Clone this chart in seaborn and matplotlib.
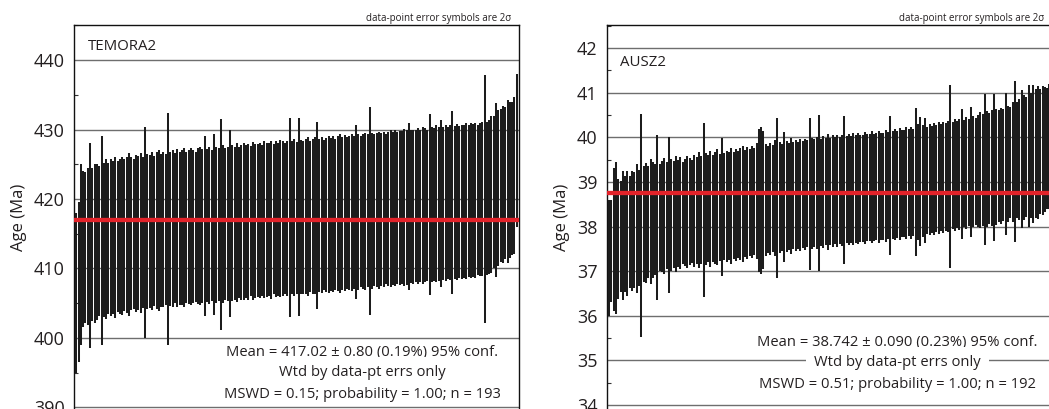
import numpy as np
import pandas as pd
import matplotlib
matplotlib.use("Agg")
import matplotlib.pyplot as plt
import seaborn as sns
from matplotlib.ticker import MultipleLocator

# ---------------- data ----------------
# TEMORA2: spot ages (Ma), sorted, and 2-sigma errors
temora_age = [
    406.5, 408.0, 412.0, 412.8, 413.0, 413.1, 413.3, 413.5, 413.6, 413.8,
    413.9, 414.0, 414.1, 414.2, 414.3, 414.4, 414.5, 414.5, 414.6, 414.6,
    414.7, 414.8, 414.8, 414.9, 415.0, 415.0, 415.0, 415.1, 415.1, 415.2,
    415.2, 415.3, 415.3, 415.4, 415.4, 415.5, 415.5, 415.5, 415.6, 415.6,
    415.7, 415.7, 415.7, 415.8, 415.8, 415.8, 415.9, 415.9, 415.9, 416.0,
    416.0, 416.0, 416.0, 416.1, 416.1, 416.1, 416.1, 416.2, 416.2, 416.2,
    416.3, 416.3, 416.3, 416.3, 416.4, 416.4, 416.4, 416.5, 416.5, 416.5,
    416.6, 416.6, 416.6, 416.7, 416.7, 416.7, 416.8, 416.8, 416.8, 416.9,
    416.9, 416.9, 417.0, 417.0, 417.0, 417.0, 417.1, 417.1, 417.1, 417.2,
    417.2, 417.2, 417.2, 417.3, 417.3, 417.3, 417.3, 417.4, 417.4, 417.4,
    417.5, 417.5, 417.5, 417.5, 417.6, 417.6, 417.6, 417.7, 417.7, 417.7,
    417.8, 417.8, 417.8, 417.8, 417.9, 417.9, 417.9, 418.0, 418.0, 418.0,
    418.0, 418.1, 418.1, 418.1, 418.2, 418.2, 418.2, 418.3, 418.3, 418.3,
    418.4, 418.4, 418.4, 418.5, 418.5, 418.5, 418.6, 418.6, 418.6, 418.7,
    418.7, 418.7, 418.8, 418.8, 418.8, 418.9, 418.9, 418.9, 419.0, 419.0,
    419.0, 419.1, 419.1, 419.1, 419.2, 419.2, 419.2, 419.3, 419.3, 419.3,
    419.4, 419.4, 419.4, 419.5, 419.5, 419.5, 419.6, 419.6, 419.6, 419.7,
    419.7, 419.7, 419.8, 419.8, 419.8, 419.9, 419.9, 420.0, 420.0, 420.1,
    420.3, 420.6, 421.0, 421.3, 421.6, 421.9, 422.1, 422.3, 422.5, 422.7,
    423.0, 423.4, 427.0,
]
temora_err2s = [
    11.5, 11.5, 13.0, 11.2, 10.9, 11.3, 14.8, 11.0, 11.4, 11.2,
    10.8, 15.0, 11.1, 11.5, 10.9, 11.3, 11.0, 11.6, 10.8, 11.2,
    11.4, 10.9, 11.2, 11.7, 11.0, 10.8, 11.3, 11.1, 11.5, 10.9,
    15.2, 11.2, 11.0, 11.4, 10.8, 11.3, 11.6, 11.0, 11.2, 10.9,
    16.7, 11.1, 11.3, 10.8, 11.4, 11.0, 11.2, 11.5, 10.9, 11.1,
    11.3, 11.0, 10.8, 11.2, 11.4, 11.1, 13.0, 11.0, 11.3, 10.9,
    13.0, 11.2, 11.0, 15.2, 11.3, 10.9, 11.1, 13.5, 11.2, 11.0,
    11.4, 10.9, 11.1, 11.3, 11.0, 11.2, 10.8, 11.4, 11.1, 11.0,
    11.2, 10.9, 11.3, 11.1, 11.0, 11.4, 10.8, 11.2, 11.0, 11.3,
    11.1, 10.9, 11.2, 14.3, 11.0, 11.3, 10.9, 14.2, 11.1, 11.0,
    11.2, 11.4, 10.9, 11.1, 11.3, 13.5, 11.0, 11.2, 10.8, 11.1,
    11.3, 11.0, 11.2, 10.9, 11.1, 11.4, 11.0, 11.2, 10.9, 11.1,
    11.3, 11.0, 12.5, 11.2, 10.9, 11.1, 11.3, 11.0, 15.0, 11.2,
    10.9, 11.1, 11.3, 11.0, 11.2, 10.8, 11.1, 11.3, 11.0, 11.2,
    10.9, 11.1, 11.0, 11.3, 11.2, 12.0, 11.0, 11.1, 10.9, 11.2,
    11.0, 11.3, 11.1, 10.9, 13.0, 11.2, 11.0, 11.3, 11.1, 12.0,
    11.0, 11.2, 10.9, 11.1, 13.2, 11.0, 11.2, 10.9, 11.1, 11.0,
    11.2, 10.9, 11.1, 11.0, 11.2, 10.8, 11.0, 11.1, 17.8, 11.0,
    11.1, 11.3, 11.0, 12.5, 11.2, 11.0, 11.3, 11.0, 11.7, 11.2,
    11.0, 11.3, 11.0,
]

# AUSZ2: spot ages (Ma), sorted, and 2-sigma errors
ausz_age = [
    37.30, 37.45, 37.70, 37.75, 37.72, 37.78, 37.80, 37.83, 37.85, 37.88,
    37.90, 37.92, 37.95, 37.97, 38.02, 38.05, 38.08, 38.10, 38.12, 38.14,
    38.16, 38.20, 38.20, 38.22, 38.23, 38.24, 38.25, 38.26, 38.27, 38.28,
    38.29, 38.30, 38.30, 38.31, 38.32, 38.33, 38.34, 38.35, 38.36, 38.37,
    38.37, 38.38, 38.39, 38.40, 38.40, 38.41, 38.42, 38.43, 38.43, 38.44,
    38.45, 38.45, 38.46, 38.47, 38.48, 38.48, 38.49, 38.50, 38.51, 38.52,
    38.53, 38.54, 38.55, 38.56, 38.57, 38.58, 38.59, 38.60, 38.60, 38.61,
    38.62, 38.62, 38.63, 38.64, 38.65, 38.65, 38.66, 38.67, 38.67, 38.68,
    38.69, 38.69, 38.70, 38.71, 38.71, 38.72, 38.73, 38.73, 38.74, 38.75,
    38.75, 38.76, 38.77, 38.77, 38.78, 38.78, 38.79, 38.79, 38.80, 38.80,
    38.81, 38.81, 38.82, 38.82, 38.83, 38.83, 38.84, 38.84, 38.85, 38.85,
    38.86, 38.86, 38.87, 38.87, 38.88, 38.88, 38.89, 38.89, 38.90, 38.90,
    38.91, 38.92, 38.92, 38.93, 38.94, 38.94, 38.95, 38.96, 38.96, 38.97,
    38.98, 38.98, 38.99, 39.00, 39.00, 39.01, 39.02, 39.03, 39.04, 39.05,
    39.06, 39.07, 39.08, 39.09, 39.10, 39.10, 39.11, 39.12, 39.13, 39.14,
    39.15, 39.16, 39.17, 39.18, 39.19, 39.20, 39.21, 39.22, 39.23, 39.24,
    39.25, 39.26, 39.27, 39.28, 39.29, 39.30, 39.31, 39.32, 39.33, 39.35,
    39.36, 39.38, 39.40, 39.41, 39.43, 39.45, 39.46, 39.48, 39.50, 39.52,
    39.54, 39.56, 39.58, 39.60, 39.62, 39.64, 39.66, 39.68, 39.70, 39.72,
    39.75, 39.80,
]
ausz_err2s = [
    1.30, 1.15, 1.60, 1.70, 1.35, 1.25, 1.45, 1.30, 1.40, 1.25,
    1.35, 1.30, 1.45, 1.30, 2.50, 1.30, 1.35, 1.25, 1.40, 1.30,
    1.25, 1.85, 1.20, 1.25, 1.30, 1.20, 1.75, 1.25, 1.20, 1.30,
    1.20, 1.25, 1.15, 1.20, 1.25, 1.20, 1.15, 1.25, 1.20, 1.30,
    1.20, 1.95, 1.25, 1.20, 1.30, 1.20, 1.25, 1.30, 1.20, 1.55,
    1.20, 1.25, 1.20, 1.30, 1.20, 1.25, 1.20, 1.25, 1.30, 1.20,
    1.25, 1.20, 1.25, 1.20, 1.30, 1.60, 1.65, 1.55, 1.25, 1.20,
    1.25, 1.20, 1.30, 1.80, 1.25, 1.20, 1.45, 1.25, 1.20, 1.30,
    1.20, 1.25, 1.20, 1.25, 1.20, 1.25, 1.20, 1.70, 1.25, 1.20,
    1.25, 1.75, 1.20, 1.25, 1.20, 1.30, 1.20, 1.25, 1.20, 1.25,
    1.20, 1.25, 1.65, 1.20, 1.25, 1.20, 1.25, 1.20, 1.25, 1.20,
    1.20, 1.25, 1.20, 1.20, 1.25, 1.20, 1.20, 1.25, 1.20, 1.20,
    1.25, 1.20, 1.55, 1.20, 1.25, 1.20, 1.25, 1.20, 1.20, 1.25,
    1.20, 1.25, 1.20, 1.65, 1.30, 1.45, 1.25, 1.40, 1.20, 1.25,
    1.20, 1.25, 1.20, 1.25, 1.20, 1.25, 1.20, 1.25, 2.05, 1.20,
    1.25, 1.20, 1.25, 1.45, 1.20, 1.25, 1.20, 1.45, 1.25, 1.20,
    1.25, 1.30, 1.25, 1.70, 1.30, 1.25, 1.30, 1.65, 1.30, 1.25,
    1.30, 1.25, 1.60, 1.30, 1.25, 1.35, 1.80, 1.30, 1.35, 1.55,
    1.40, 1.35, 1.60, 1.40, 1.55, 1.45, 1.50, 1.40, 1.45, 1.40,
    1.35, 1.40,
]

temora_mean = 417.02
ausz_mean = 38.742

temora_ticks = [390, 400, 410, 420, 430, 440]
ausz_ticks = [34, 35, 36, 37, 38, 39, 40, 41, 42]

temora_name = "TEMORA2"
ausz_name = "AUSZ2"
temora_lines = ["Mean = 417.02 \u00b1 0.80 (0.19%) 95% conf.",
                "Wtd by data-pt errs only",
                "MSWD = 0.15; probability = 1.00; n = 193"]
ausz_lines = ["Mean = 38.742 \u00b1 0.090 (0.23%) 95% conf.",
              "Wtd by data-pt errs only",
              "MSWD = 0.51; probability = 1.00; n = 192"]
note = "data-point error symbols are 2\u03c3"
ylabel = "Age (Ma)"

# ---------------- style ----------------
sns.set_theme(style="white")
plt.rcParams["font.family"] = ["Open Sans", "DejaVu Sans"]

W, H = 1049, 409
AW = 445
fig = plt.figure(figsize=(W / 100, H / 100), dpi=100)
ax1 = fig.add_axes([74 / W, 0, AW / W, 384 / H])
ax2 = fig.add_axes([606.7 / W, 0, 450 / W, 384 / H])

BAR = "#1c1c1c"
RED = "#e3232a"
GRID = "#6e6e6e"
TXT = "#231f20"


def panel(ax, width_px, age, err, mean, ticks, ylim, minor, name, name_xy,
          lines, lines_xpx, lines_y, ylab_xpx):
    n = len(age)
    rows = []
    for i, (a, e) in enumerate(zip(age, err)):
        rows.append((i, a - e))
        rows.append((i, a + e))
    df = pd.DataFrame(rows, columns=["idx", "age"])
    sns.lineplot(data=df, x="idx", y="age", units="idx", estimator=None,
                 color=BAR, lw=1.45, ax=ax, legend=False, sort=False)
    for ln in ax.lines:
        ln.set_solid_capstyle("butt")
        ln.set_zorder(3)
    ax.axhline(mean, color=RED, lw=3.1, zorder=5)

    ax.set_xlim(-1, n * width_px / AW)
    ax.set_ylim(*ylim)
    ax.set_xticks([])
    ax.set_yticks(ticks)
    ax.yaxis.set_minor_locator(MultipleLocator(minor))
    ax.grid(axis="y", which="major", color=GRID, lw=1.0, zorder=1)
    ax.set_axisbelow(True)
    ax.tick_params(axis="y", which="major", length=0, pad=6.5,
                   labelsize=13, labelcolor=TXT)
    ax.tick_params(axis="y", which="minor", direction="in", length=3,
                   width=0.8, color="#333333", left=True)
    ax.set_xlabel("")
    ax.set_ylabel(ylabel, fontsize=12, color=TXT)
    ax.yaxis.set_label_coords(ylab_xpx / width_px, 0.5)
    for side in ["left", "top", "right"]:
        ax.spines[side].set_visible(True)
        ax.spines[side].set_color("#111111")
        ax.spines[side].set_linewidth(1.0)
    ax.spines["bottom"].set_visible(False)

    ax.text(name_xy[0] / width_px, name_xy[1], name, transform=ax.transAxes,
            fontsize=10.8, color=TXT, ha="left", va="center")
    for t, y in zip(lines, lines_y):
        kw = {}
        if t.startswith("Wtd"):
            kw["bbox"] = dict(boxstyle="square,pad=0.55", fc="white", ec="none")
        ax.text(lines_xpx / width_px, y, t, transform=ax.transAxes,
                fontsize=10.6, color=TXT, ha="center", va="center",
                zorder=6, **kw)
    ax.text((AW - 8) / width_px, 1.018, note, transform=ax.transAxes,
            fontsize=7, color=TXT, ha="right", va="center")


panel(ax1, AW, temora_age, temora_err2s, temora_mean, temora_ticks,
      (389.78, 445.04), 5, temora_name, (14, 0.943),
      temora_lines, 288, [0.148, 0.094, 0.039], -47)
panel(ax2, 450, ausz_age, ausz_err2s, ausz_mean, ausz_ticks,
      (33.91, 42.516), 0.5, ausz_name, (13.5, 0.902),
      ausz_lines, 290.5, [0.172, 0.120, 0.065], -37)

fig.savefig("out.png", dpi=100)
